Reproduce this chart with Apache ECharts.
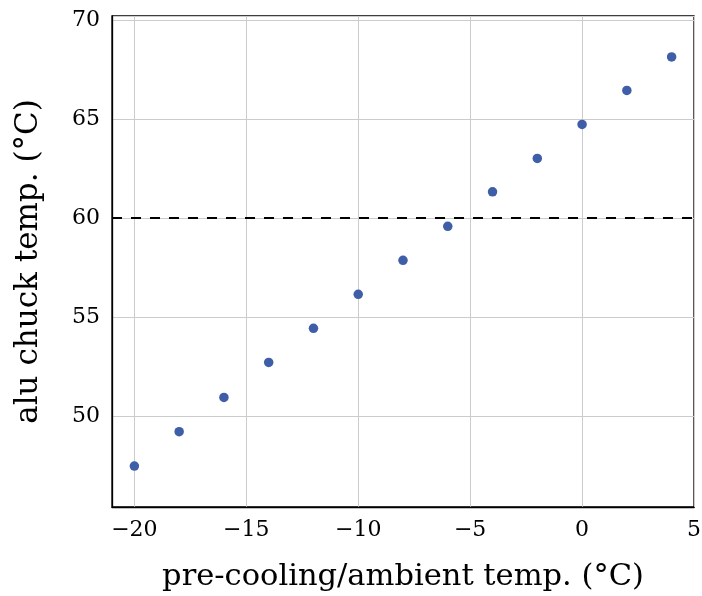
<!DOCTYPE html>
<html>
<head>
<meta charset="utf-8">
<script src="https://cdn.jsdelivr.net/npm/echarts@6/dist/echarts.min.js"></script>
<style>
  html, body { margin: 0; padding: 0; background: #fff; }
  #chart { width: 702px; height: 596px; }
</style>
</head>
<body>
<div id="chart"></div>
<script>
// pre-cooling / ambient temperature (°C)
const ambientTemp = [-20, -18, -16, -14, -12, -10, -8, -6, -4, -2, 0, 2, 4];
// measured alu chuck temperature (°C)
const chuckTemp = [47.47, 49.21, 50.94, 52.71, 54.43, 56.15, 57.87, 59.59, 61.33, 63.02, 64.74, 66.46, 68.15];
const limitTemp = 60;

const xTitle = 'pre-cooling/ambient temp. (°C)';
const yTitle = 'alu chuck temp. (°C)';

const font = 'DejaVu Serif';
const points = ambientTemp.map((t, i) => [t, chuckTemp[i]]);

const chart = echarts.init(document.getElementById('chart'));
chart.setOption({
  animation: false,
  grid: {
    left: 112, right: 8, top: 16, bottom: 89,
    outerBoundsMode: 'none',
    show: true, borderColor: '#000', borderWidth: 1.3
  },
  xAxis: {
    type: 'value',
    min: -21, max: 5,
    splitNumber: 5,
    name: xTitle,
    nameLocation: 'middle',
    nameGap: 55,
    nameTextStyle: { fontFamily: font, fontSize: 30.5, color: '#000' },
    axisLine: { show: true, onZero: false, lineStyle: { color: '#000', width: 1.3 } },
    axisTick: { show: false },
    axisLabel: {
      fontFamily: font, fontSize: 22, color: '#000', margin: 12,
      showMinLabel: false,
      formatter: v => String(v).replace('-', '\u2212')
    },
    splitLine: { show: true, lineStyle: { color: '#cccccc', width: 1 } }
  },
  yAxis: {
    type: 'value',
    min: 45.4, max: 70.22,
    splitNumber: 5,
    name: yTitle,
    nameLocation: 'middle',
    nameGap: 68,
    nameTextStyle: { fontFamily: font, fontSize: 31, color: '#000' },
    axisLine: { show: true, onZero: false, lineStyle: { color: '#000', width: 1.3 } },
    axisTick: { show: false },
    axisLabel: {
      fontFamily: font, fontSize: 22, color: '#000', margin: 12,
      showMinLabel: false, showMaxLabel: false
    },
    splitLine: { show: true, lineStyle: { color: '#cccccc', width: 1 } }
  },
  series: [
    {
      type: 'scatter',
      data: points,
      symbol: 'circle',
      symbolSize: 9.5,
      itemStyle: { color: '#3f5ea8', opacity: 1 },
      z: 3,
      markLine: {
        silent: true,
        symbol: ['none', 'none'],
        label: { show: false },
        lineStyle: { color: '#000', width: 2, type: [10, 9], opacity: 1 },
        data: [{ yAxis: limitTemp }]
      }
    }
  ]
});
</script>
</body>
</html>
